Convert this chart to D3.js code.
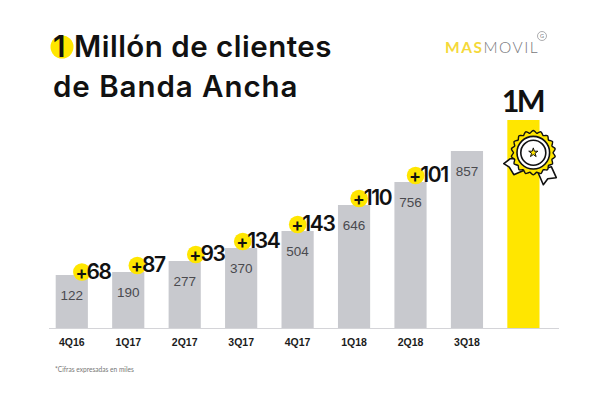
<!DOCTYPE html>
<html>
<head>
<meta charset="utf-8">
<script src="https://cdn.jsdelivr.net/npm/d3@7"></script>
<style>
html, body { margin: 0; padding: 0; background: #fff; }
svg { display: block; }
</style>
</head>
<body>
<div id="chartContainer"></div>
<script>
const width = 608;
const height = 393;
const baseY = 328;

const quarters = ["4Q16", "1Q17", "2Q17", "3Q17", "4Q17", "1Q18", "2Q18", "3Q18", ""];
const clients = [122, 190, 277, 370, 504, 646, 756, 857, 1000];
const gains = [68, 87, 93, 134, 143, 110, 101];
const titleLines = ["Millón de clientes", "de Banda Ancha"];

const yellow = "#ffe600";
const grey = "#c8c9ce";

// how far each yellow dot sits in from the right edge of its bar
const dotInset = [6, 7, 5, 14.5, 16, 11, 11];

const svg = d3.select("#chartContainer")
    .append("svg")
    .attr("width", width)
    .attr("height", height);

const xScale = d3.scaleBand()
    .domain(quarters)
    .range([55.7, 539.5])
    .paddingInner(0.43)
    .paddingOuter(0);

// the bars in the original are not to scale, so the y scale is piecewise
const yScale = d3.scaleLinear()
    .domain([0, 122, 190, 277, 370, 504, 646, 756, 857, 1000])
    .range([baseY, 275, 272, 261, 248, 231, 205, 182, 151, 120]);

// bars
svg.selectAll("rect.bar")
    .data(clients)
    .enter()
    .append("rect")
    .attr("class", "bar")
    .attr("x", (d, i) => xScale(quarters[i]))
    .attr("y", d => yScale(d))
    .attr("width", xScale.bandwidth())
    .attr("height", d => baseY - yScale(d))
    .attr("fill", (d, i) => i == clients.length - 1 ? yellow : grey);

// baseline
svg.append("line")
    .attr("x1", 49).attr("x2", 559)
    .attr("y1", baseY + 0.5).attr("y2", baseY + 0.5)
    .attr("stroke", "#d4d4d8");

// value inside the bar
svg.selectAll("text.value")
    .data(clients.slice(0, 8))
    .enter()
    .append("text")
    .attr("class", "value")
    .attr("x", (d, i) => xScale(quarters[i]) + xScale.bandwidth() / 2)
    .attr("y", d => yScale(d) + 25)
    .attr("text-anchor", "middle")
    .attr("font-family", "Liberation Sans")
    .attr("font-size", 13.5)
    .attr("fill", "#4a4a4e")
    .text(d => d);

// quarter labels
svg.selectAll("text.quarter")
    .data(quarters.slice(0, 8))
    .enter()
    .append("text")
    .attr("class", "quarter")
    .attr("x", d => xScale(d) + xScale.bandwidth() / 2)
    .attr("y", 346)
    .attr("text-anchor", "middle")
    .attr("font-family", "Liberation Sans")
    .attr("font-weight", "bold")
    .attr("font-size", 10.5)
    .attr("fill", "#1c1c1c")
    .text(d => d);

// yellow dots with the quarterly gain
const gainGroups = svg.selectAll("g.gain")
    .data(gains)
    .enter()
    .append("g")
    .attr("class", "gain")
    .attr("transform", (d, i) => `translate(${xScale(quarters[i]) + xScale.bandwidth() - dotInset[i]},${yScale(clients[i]) - (i == 0 ? 3 : 6.5)})`);

gainGroups.append("circle")
    .attr("r", 8.8)
    .attr("fill", yellow);

const gainText = gainGroups.append("text")
    .attr("x", -6.5)
    .attr("y", 6.5)
    .attr("font-family", "Inter")
    .attr("font-weight", 600)
    .attr("fill", "#111");
gainText.append("tspan").attr("font-size", 18).attr("letter-spacing", -1).text("+");
gainText.append("tspan")
    .attr("font-size", 21)
    .attr("letter-spacing", -1.4)
    .text(d => d);

// title
svg.append("circle")
    .attr("cx", 62).attr("cy", 47).attr("r", 11.5)
    .attr("fill", yellow);

svg.append("text")
    .attr("x", 53).attr("y", 57)
    .attr("font-family", "Inter")
    .attr("font-weight", 600)
    .attr("font-size", 29.5)
    .attr("fill", "#111")
    .text("1");

svg.selectAll("text.title")
    .data(titleLines)
    .enter()
    .append("text")
    .attr("class", "title")
    .attr("x", (d, i) => i == 0 ? 74 : 53)
    .attr("y", (d, i) => i == 0 ? 57 : 97)
    .attr("font-family", "Inter")
    .attr("font-weight", 600)
    .attr("font-size", 29.5)
    .attr("letter-spacing", (d, i) => i == 0 ? 0.5 : 0.95)
    .attr("fill", "#111")
    .text(d => d);

// logo
const logo = svg.append("text")
    .attr("x", 445).attr("y", 53)
    .attr("font-family", "Lato")
    .attr("font-size", 15.5)
    .attr("letter-spacing", 1.5);
logo.append("tspan").attr("font-weight", "bold").attr("fill", "#f5d93a").text("MAS");
logo.append("tspan").attr("font-weight", 300).attr("fill", "#77777b").text("MOVIL");

svg.append("circle")
    .attr("cx", 542).attr("cy", 36).attr("r", 4.5)
    .attr("fill", "none")
    .attr("stroke", "#8a8a8e")
    .attr("stroke-width", 0.7);
svg.append("text")
    .attr("x", 542).attr("y", 38)
    .attr("text-anchor", "middle")
    .attr("font-family", "Lato")
    .attr("font-size", 5.5)
    .attr("fill", "#77777b")
    .text("G");

// 1M label
svg.append("text")
    .attr("x", xScale("") + xScale.bandwidth() / 2 - 1)
    .attr("y", 112)
    .attr("text-anchor", "middle")
    .attr("font-family", "Lato")
    .attr("font-weight", "bold")
    .attr("font-size", 30.5)
    .attr("letter-spacing", -2.5)
    .attr("fill", "#111")
    .text("1M");

// medal
const medal = svg.append("g").attr("transform", "translate(533.3,152.7)");

const ribbons = [
    "M-12,6 L-23,6 L-29.5,11 L-24,14.5 L-19.5,22 L-8,17 Z",
    "M4,18 L10,32 L14.5,26 L23,25 L18,14 Z"
];
medal.selectAll("path.ribbon")
    .data(ribbons)
    .enter()
    .append("path")
    .attr("class", "ribbon")
    .attr("d", d => d)
    .attr("fill", "#fff")
    .attr("stroke", "#111")
    .attr("stroke-width", 1.6)
    .attr("stroke-linejoin", "round");

const scallop = d3.lineRadial()
    .angle(d => d / 72 * 2 * Math.PI)
    .radius(d => 21 + 1.2 * Math.cos(d / 72 * 2 * Math.PI * 18))
    .curve(d3.curveCardinalClosed);

medal.append("path")
    .attr("d", scallop(d3.range(72)))
    .attr("fill", yellow)
    .attr("stroke", "#111")
    .attr("stroke-width", 1.4);

medal.append("circle").attr("r", 16.3).attr("fill", "#fff").attr("stroke", "#111").attr("stroke-width", 1.6);
medal.append("circle").attr("r", 12.5).attr("fill", "#fff").attr("stroke", "#111").attr("stroke-width", 1.6);
medal.append("path")
    .attr("d", d3.symbol(d3.symbolStar, 26))
    .attr("fill", yellow)
    .attr("stroke", "#111")
    .attr("stroke-width", 1);

// footnote
svg.append("text")
    .attr("x", 55).attr("y", 372)
    .attr("font-family", "Lato")
    .attr("font-size", 6.6)
    .attr("fill", "#777")
    .text("*Cifras expresadas en miles");
</script>
</body>
</html>
